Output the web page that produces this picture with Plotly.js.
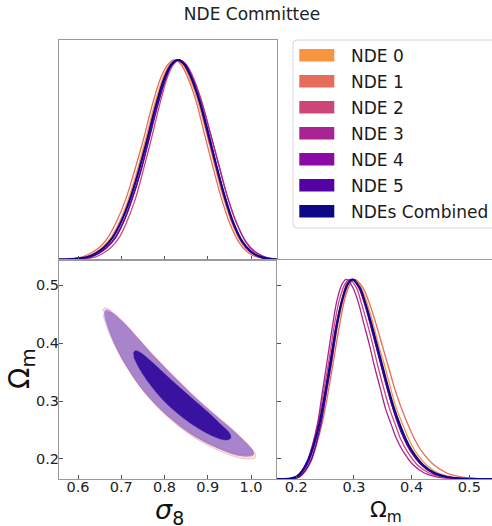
<!DOCTYPE html>
<html><head><meta charset="utf-8">
<script src="https://cdn.plot.ly/plotly-3.0.1.min.js"></script>
<style>html,body{margin:0;padding:0;background:#fff}</style>
</head><body><div id="chart" style="width:492px;height:526px"></div>
<script>
// ---------- data ----------
const seriesNames = ['NDE 0','NDE 1','NDE 2','NDE 3','NDE 4','NDE 5','NDEs Combined'];
const seriesColors = ['#f89540','#e66c5c','#cc4778','#aa2395','#8b0aa5','#5402a3','#0d0887'];

const s8Ticks = [0.6, 0.7, 0.8, 0.9, 1.0];
const s8TickLabels = ['0.6','0.7','0.8','0.9','1.0'];
const omTicks = [0.2, 0.3, 0.4, 0.5];
const omTickLabels = ['0.2','0.3','0.4','0.5'];

// 1D sigma_8 marginals (normalised to peak = 1)
const s8Density = [0, 0.001, 0.005, 0.012, 0.03, 0.06, 0.11, 0.19, 0.30, 0.44, 0.60, 0.77, 0.91, 0.975, 1.0, 0.98, 0.92, 0.80, 0.64, 0.47, 0.31, 0.18, 0.09, 0.04, 0.015, 0.004, 0];
const s8_nde0 = [0.556, 0.576, 0.596, 0.616, 0.636, 0.656, 0.676, 0.696, 0.716, 0.736, 0.756, 0.776, 0.796, 0.811, 0.826, 0.841, 0.856, 0.876, 0.896, 0.916, 0.936, 0.956, 0.976, 0.996, 1.016, 1.036, 1.06];
const s8_nde1 = [0.556, 0.567, 0.587, 0.608, 0.628, 0.649, 0.669, 0.689, 0.710, 0.730, 0.751, 0.771, 0.791, 0.807, 0.822, 0.837, 0.852, 0.872, 0.891, 0.911, 0.931, 0.951, 0.971, 0.990, 1.010, 1.030, 1.06];
const s8_nde2 = [0.556, 0.602, 0.620, 0.639, 0.657, 0.676, 0.695, 0.713, 0.732, 0.750, 0.769, 0.788, 0.806, 0.820, 0.834, 0.849, 0.865, 0.885, 0.905, 0.926, 0.946, 0.967, 0.987, 1.007, 1.028, 1.048, 1.06];
const s8_nde3 = [0.556, 0.587, 0.607, 0.626, 0.646, 0.665, 0.685, 0.705, 0.724, 0.744, 0.763, 0.783, 0.803, 0.817, 0.832, 0.848, 0.863, 0.884, 0.905, 0.926, 0.946, 0.967, 0.988, 1.009, 1.030, 1.050, 1.06];
const s8_nde4 = [0.556, 0.579, 0.599, 0.619, 0.639, 0.659, 0.679, 0.699, 0.719, 0.739, 0.759, 0.779, 0.799, 0.814, 0.829, 0.844, 0.859, 0.879, 0.898, 0.918, 0.938, 0.958, 0.978, 0.997, 1.017, 1.037, 1.06];
const s8_nde5 = [0.556, 0.590, 0.609, 0.628, 0.648, 0.667, 0.687, 0.706, 0.725, 0.745, 0.764, 0.784, 0.803, 0.817, 0.832, 0.847, 0.861, 0.881, 0.901, 0.920, 0.940, 0.959, 0.979, 0.999, 1.018, 1.038, 1.06];
const s8_comb = [0.556, 0.58, 0.60, 0.62, 0.64, 0.66, 0.68, 0.70, 0.72, 0.74, 0.76, 0.78, 0.80, 0.815, 0.83, 0.845, 0.86, 0.88, 0.90, 0.92, 0.94, 0.96, 0.98, 1.00, 1.02, 1.04, 1.06];

// 1D Omega_m marginals (normalised to peak = 1)
const omDensity = [0, 0, 0.003, 0.012, 0.04, 0.09, 0.17, 0.28, 0.43, 0.60, 0.77, 0.90, 0.98, 1.0, 0.96, 0.88, 0.78, 0.67, 0.56, 0.45, 0.35, 0.27, 0.20, 0.145, 0.07, 0.03, 0.012, 0.004, 0.001, 0];
const om_nde0 = [0.166, 0.182, 0.192, 0.202, 0.212, 0.222, 0.232, 0.242, 0.252, 0.262, 0.272, 0.282, 0.292, 0.300, 0.312, 0.323, 0.333, 0.343, 0.354, 0.364, 0.374, 0.385, 0.395, 0.405, 0.426, 0.446, 0.467, 0.488, 0.508, 0.54];
const om_nde1 = [0.166, 0.186, 0.196, 0.206, 0.216, 0.226, 0.235, 0.245, 0.255, 0.265, 0.275, 0.284, 0.294, 0.302, 0.315, 0.327, 0.338, 0.349, 0.360, 0.371, 0.383, 0.394, 0.405, 0.416, 0.439, 0.461, 0.483, 0.506, 0.528, 0.545];
const om_nde2 = [0.166, 0.182, 0.192, 0.201, 0.210, 0.220, 0.229, 0.238, 0.247, 0.257, 0.266, 0.275, 0.285, 0.292, 0.304, 0.313, 0.323, 0.333, 0.342, 0.352, 0.362, 0.372, 0.381, 0.391, 0.410, 0.430, 0.449, 0.469, 0.488, 0.54];
const om_nde3 = [0.166, 0.184, 0.193, 0.202, 0.210, 0.219, 0.228, 0.237, 0.245, 0.254, 0.263, 0.271, 0.280, 0.287, 0.298, 0.308, 0.317, 0.327, 0.336, 0.346, 0.355, 0.365, 0.374, 0.384, 0.403, 0.422, 0.441, 0.460, 0.479, 0.54];
const om_nde4 = [0.166, 0.184, 0.193, 0.203, 0.212, 0.222, 0.231, 0.241, 0.250, 0.260, 0.269, 0.279, 0.288, 0.296, 0.308, 0.318, 0.328, 0.338, 0.348, 0.358, 0.368, 0.378, 0.388, 0.398, 0.418, 0.438, 0.458, 0.478, 0.498, 0.54];
const om_nde5 = [0.166, 0.187, 0.197, 0.206, 0.215, 0.225, 0.234, 0.243, 0.252, 0.262, 0.271, 0.280, 0.290, 0.297, 0.309, 0.319, 0.328, 0.338, 0.348, 0.358, 0.368, 0.377, 0.387, 0.397, 0.417, 0.436, 0.456, 0.475, 0.495, 0.54];
const om_comb = [0.166, 0.18, 0.19, 0.20, 0.21, 0.22, 0.23, 0.24, 0.25, 0.26, 0.27, 0.28, 0.29, 0.298, 0.31, 0.32, 0.33, 0.34, 0.35, 0.36, 0.37, 0.38, 0.39, 0.40, 0.42, 0.44, 0.46, 0.48, 0.50, 0.54];

// 2D contours (sigma_8, Omega_m)
const c95_comb_s8 = [0.660, 0.663, 0.670, 0.680, 0.690, 0.710, 0.740, 0.780, 0.834, 0.880, 0.920, 0.950, 0.975, 0.990, 1.000, 1.006, 1.007, 1.003, 0.990, 0.975, 0.950, 0.920, 0.880, 0.834, 0.780, 0.740, 0.710, 0.690, 0.675, 0.665, 0.661];
const c95_comb_om = [0.452, 0.457, 0.457, 0.452, 0.446, 0.432, 0.407, 0.374, 0.333, 0.300, 0.274, 0.255, 0.238, 0.227, 0.219, 0.213, 0.208, 0.205, 0.204, 0.205, 0.210, 0.219, 0.234, 0.257, 0.293, 0.328, 0.362, 0.389, 0.414, 0.435, 0.445];
const c68_comb_s8 = [0.728, 0.731, 0.738, 0.745, 0.765, 0.800, 0.843, 0.880, 0.910, 0.932, 0.945, 0.952, 0.953, 0.946, 0.932, 0.910, 0.880, 0.843, 0.800, 0.765, 0.745, 0.735, 0.729];
const c68_comb_om = [0.382, 0.386, 0.386, 0.383, 0.371, 0.347, 0.318, 0.294, 0.274, 0.258, 0.249, 0.242, 0.236, 0.233, 0.234, 0.240, 0.252, 0.271, 0.299, 0.330, 0.352, 0.366, 0.376];
const c95_nde1_s8 = [0.664, 0.667, 0.674, 0.684, 0.694, 0.714, 0.744, 0.784, 0.838, 0.884, 0.924, 0.954, 0.979, 0.994, 1.004, 1.010, 1.011, 1.007, 0.994, 0.979, 0.954, 0.924, 0.884, 0.838, 0.784, 0.744, 0.714, 0.694, 0.679, 0.669, 0.665];
const c95_nde1_om = [0.448, 0.453, 0.453, 0.448, 0.442, 0.428, 0.403, 0.370, 0.329, 0.296, 0.270, 0.251, 0.234, 0.223, 0.215, 0.209, 0.204, 0.201, 0.200, 0.201, 0.206, 0.215, 0.230, 0.253, 0.289, 0.324, 0.358, 0.385, 0.410, 0.431, 0.441];
const c95_nde2_s8 = [0.657, 0.660, 0.667, 0.677, 0.687, 0.707, 0.737, 0.777, 0.831, 0.877, 0.917, 0.947, 0.972, 0.987, 0.997, 1.003, 1.004, 1.000, 0.987, 0.972, 0.947, 0.917, 0.877, 0.831, 0.777, 0.737, 0.707, 0.687, 0.672, 0.662, 0.658];
const c95_nde2_om = [0.455, 0.460, 0.460, 0.455, 0.449, 0.435, 0.410, 0.377, 0.336, 0.303, 0.277, 0.258, 0.241, 0.230, 0.222, 0.216, 0.211, 0.208, 0.207, 0.208, 0.213, 0.222, 0.237, 0.260, 0.296, 0.331, 0.365, 0.392, 0.417, 0.438, 0.448];

// ---------- layout helpers ----------
const W = 492, H = 526;
const px = x => x / W;
const py = y => 1 - y / H;
const FONT = 'DejaVu Sans, Verdana, sans-serif';

const s8Series = [s8_nde0, s8_nde1, s8_nde2, s8_nde3, s8_nde4, s8_nde5, s8_comb];
const omSeries = [om_nde0, om_nde1, om_nde2, om_nde3, om_nde4, om_nde5, om_comb];

const traces = [];
s8Series.forEach((xs, i) => {
  traces.push({type:'scatter', mode:'lines', x:xs, y:s8Density, xaxis:'x', yaxis:'y',
    line:{color:seriesColors[i], width: i === 6 ? 2 : 1.3, shape:'spline', smoothing:1},
    hoverinfo:'skip', showlegend:false});
});
omSeries.forEach((xs, i) => {
  traces.push({type:'scatter', mode:'lines', x:xs, y:omDensity, xaxis:'x3', yaxis:'y3',
    line:{color:seriesColors[i], width: i === 6 ? 2 : 1.3, shape:'spline', smoothing:1},
    hoverinfo:'skip', showlegend:false});
});
// 2D contours
traces.push({type:'scatter', mode:'lines', x:c95_nde1_s8, y:c95_nde1_om, xaxis:'x2', yaxis:'y2',
  fill:'toself', fillcolor:'rgba(230,108,92,0.2)', line:{color:'rgba(230,108,92,0.4)', width:0.8, shape:'spline'},
  hoverinfo:'skip', showlegend:false});
traces.push({type:'scatter', mode:'lines', x:c95_nde2_s8, y:c95_nde2_om, xaxis:'x2', yaxis:'y2',
  fill:'toself', fillcolor:'rgba(204,71,120,0.16)', line:{color:'rgba(204,71,120,0.35)', width:0.8, shape:'spline'},
  hoverinfo:'skip', showlegend:false});
traces.push({type:'scatter', mode:'lines', x:c95_comb_s8, y:c95_comb_om, xaxis:'x2', yaxis:'y2',
  fill:'toself', fillcolor:'rgba(108,76,202,0.55)', line:{color:'rgba(108,76,202,0.0)', width:0, shape:'spline'},
  hoverinfo:'skip', showlegend:false});
traces.push({type:'scatter', mode:'lines', x:c68_comb_s8, y:c68_comb_om, xaxis:'x2', yaxis:'y2',
  fill:'toself', fillcolor:'#3a12a0', line:{color:'#3a12a0', width:0.5, shape:'spline'},
  hoverinfo:'skip', showlegend:false});

const axBase = {showline:true, linecolor:'#9a9a9a', linewidth:1, ticks:'inside', ticklen:4,
  tickwidth:1, tickcolor:'#555', showgrid:false, zeroline:false, fixedrange:true,
  tickfont:{family:FONT, size:14.5, color:'#222'}};

const dens2pix = v => (v - 0.1655) / (0.544 - 0.1655) * 1.1;

const layout = {
  width: W, height: H, margin:{l:0, r:0, t:0, b:0}, paper_bgcolor:'#fff', plot_bgcolor:'#fff',
  font:{family:FONT, color:'#222'},
  title:{text:'NDE Committee', font:{family:FONT, size:17, color:'#222'}, x:252/W, xanchor:'center',
    y:1 - 14/H, yanchor:'middle', xref:'container', yref:'container'},
  xaxis: Object.assign({}, axBase, {domain:[px(59), px(277)], anchor:'y', range:[0.556, 1.060],
    tickvals:s8Ticks, showticklabels:false, mirror:true}),
  yaxis: Object.assign({}, axBase, {domain:[py(259.5), py(40)], anchor:'x', range:[0, 1.1],
    ticks:'', showticklabels:false, mirror:true}),
  xaxis2: Object.assign({}, axBase, {domain:[px(59), px(277)], anchor:'y2', range:[0.556, 1.060],
    tickvals:s8Ticks, ticktext:s8TickLabels, mirror:true, ticklabelstandoff:-5}),
  yaxis2: Object.assign({}, axBase, {domain:[py(479), py(259.5)], anchor:'x2', range:[0.1655, 0.544],
    tickvals:omTicks, ticktext:omTickLabels, mirror:true, ticklabelstandoff:-4}),
  xaxis3: Object.assign({}, axBase, {domain:[px(276.75), 1], anchor:'y3', range:[0.1662, 0.5393],
    tickvals:omTicks, ticktext:omTickLabels, mirror:true, ticklabelstandoff:-5}),
  yaxis3: Object.assign({}, axBase, {domain:[py(479), py(259.5)], anchor:'x3', range:[0, 1.1],
    tickvals:omTicks.map(dens2pix), showticklabels:false, mirror:false}),
  shapes: [], annotations: []
};

// legend (drawn manually as matplotlib-style box)
const lx0 = 293, lx1 = 500, ly0 = 40, ly1 = 228, r = 4;
const P = (x, y) => px(x) + ',' + py(y);
layout.shapes.push({type:'path', xref:'paper', yref:'paper', layer:'above',
  path: 'M' + P(lx0 + r, ly0) + ' L' + P(lx1, ly0) + ' L' + P(lx1, ly1) + ' L' + P(lx0 + r, ly1) +
        ' Q' + P(lx0, ly1) + ' ' + P(lx0, ly1 - r) + ' L' + P(lx0, ly0 + r) + ' Q' + P(lx0, ly0) + ' ' + P(lx0 + r, ly0) + ' Z',
  fillcolor:'rgba(255,255,255,0.8)', line:{color:'#d6d6d6', width:1}});
seriesNames.forEach((nm, i) => {
  const cy = 55.3 + i * 26;
  layout.shapes.push({type:'rect', xref:'paper', yref:'paper', layer:'above',
    x0:px(299.3), x1:px(334.3), y0:py(cy + 6.3), y1:py(cy - 6.3),
    fillcolor:seriesColors[i], line:{width:0}});
  layout.annotations.push({xref:'paper', yref:'paper', x:px(349), y:py(cy + 0.5), xanchor:'left', yanchor:'middle',
    text:nm, showarrow:false, font:{family:FONT, size:17, color:'#1a1a1a'}});
});

// axis titles
layout.annotations.push({xref:'paper', yref:'paper', x:px(169), y:py(511), xanchor:'center', yanchor:'middle',
  text:'<i>σ</i><sub>8</sub>', showarrow:false, font:{family:FONT, size:27, color:'#111'}});
layout.annotations.push({xref:'paper', yref:'paper', x:px(21), y:py(369), xanchor:'center', yanchor:'middle',
  text:'Ω<sub>m</sub>', textangle:-90, showarrow:false, font:{family:FONT, size:28, color:'#111'}});
layout.annotations.push({xref:'paper', yref:'paper', x:px(386), y:py(511), xanchor:'center', yanchor:'middle',
  text:'Ω<sub>m</sub>', showarrow:false, font:{family:FONT, size:22, color:'#111'}});

Plotly.newPlot('chart', traces, layout, {displayModeBar:false, staticPlot:true});
</script>
</body></html>
